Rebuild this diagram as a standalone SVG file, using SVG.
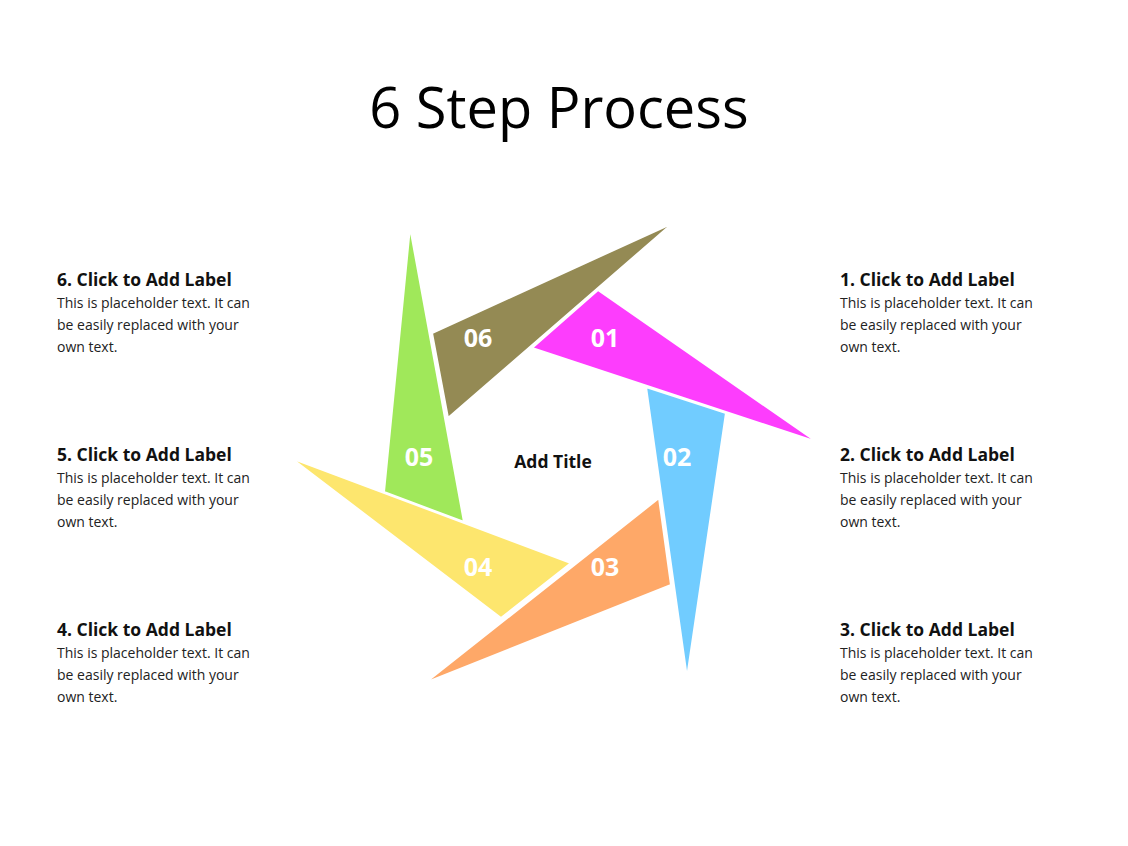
<svg xmlns="http://www.w3.org/2000/svg" width="1128" height="846" viewBox="0 0 1128 846">
<style>
.t{font-family:"Open Sans","Liberation Sans",sans-serif;fill:#000}
.h{font-family:"Open Sans","Liberation Sans",sans-serif;font-weight:bold;font-size:17.5px;fill:#111}
.b{font-family:"Open Sans","Liberation Sans",sans-serif;font-size:14px;fill:#222}
.n{font-family:"Open Sans","Liberation Sans",sans-serif;font-weight:bold;font-size:25px;fill:#fff;text-anchor:middle}
.s{stroke:#fff;stroke-width:2;stroke-linejoin:miter}
</style>
<rect width="1128" height="846" fill="#fff"/>
<text class="t" x="559" y="128" font-size="56" text-anchor="middle">6 Step Process</text>
<g id="connectors"/>
<g id="step6"><polygon class="s" points="673,223 432,333 448,418" fill="#948a54"/><text class="n" x="478" y="347">06</text></g>
<g id="step5"><polygon class="s" points="410,227 384,492 464,522" fill="#a0e85a"/><text class="n" x="419" y="466">05</text></g>
<g id="step4"><polygon class="s" points="291,458 571,563 501,618" fill="#fde66e"/><text class="n" x="478" y="576">04</text></g>
<g id="step3"><polygon class="s" points="659,498 671,585 425,683" fill="#fea868"/><text class="n" x="605" y="576">03</text></g>
<g id="step2"><polygon class="s" points="646,387 726,413 687,678" fill="#71ccff"/><text class="n" x="677" y="466">02</text></g>
<g id="step1"><polygon class="s" points="598,290 532,348 817,442" fill="#fd3dfd"/><text class="n" x="605" y="347">01</text></g>
<g id="center"><text class="h" x="553" y="468" text-anchor="middle">Add Title</text></g>
<g id="label1"><text class="h" x="840" y="286">1. Click to Add Label</text><text class="b" x="840" y="308">This is placeholder  text. It can</text><text class="b" x="840" y="330">be easily replaced with your</text><text class="b" x="840" y="352">own text.</text></g>
<g id="label2"><text class="h" x="840" y="461">2. Click to Add Label</text><text class="b" x="840" y="483">This is placeholder  text. It can</text><text class="b" x="840" y="505">be easily replaced with your</text><text class="b" x="840" y="527">own text.</text></g>
<g id="label3"><text class="h" x="840" y="636">3. Click to Add Label</text><text class="b" x="840" y="658">This is placeholder  text. It can</text><text class="b" x="840" y="680">be easily replaced with your</text><text class="b" x="840" y="702">own text.</text></g>
<g id="label6"><text class="h" x="57" y="286">6. Click to Add Label</text><text class="b" x="57" y="308">This is placeholder  text. It can</text><text class="b" x="57" y="330">be easily replaced with your</text><text class="b" x="57" y="352">own text.</text></g>
<g id="label5"><text class="h" x="57" y="461">5. Click to Add Label</text><text class="b" x="57" y="483">This is placeholder  text. It can</text><text class="b" x="57" y="505">be easily replaced with your</text><text class="b" x="57" y="527">own text.</text></g>
<g id="label4"><text class="h" x="57" y="636">4. Click to Add Label</text><text class="b" x="57" y="658">This is placeholder  text. It can</text><text class="b" x="57" y="680">be easily replaced with your</text><text class="b" x="57" y="702">own text.</text></g>
</svg>
